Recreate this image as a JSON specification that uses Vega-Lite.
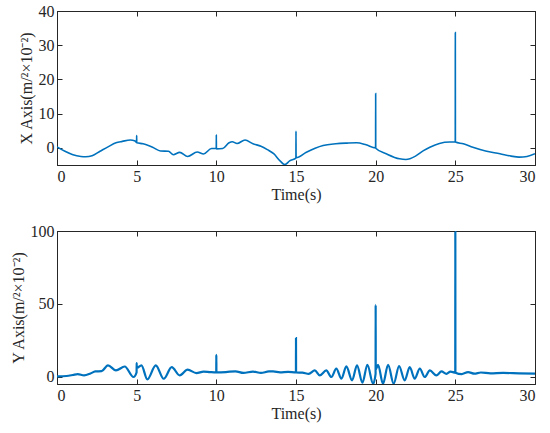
{
  "$schema": "https://vega.github.io/schema/vega-lite/v6.json",
  "padding": {"left": 9, "top": 2, "right": 6, "bottom": 4},
  "spacing": 19,
  "config": {
    "font": "Liberation Serif",
    "view": {"stroke": "#262626", "strokeWidth": 1},
    "axis": {
      "grid": false,
      "domainColor": "#262626",
      "tickColor": "#262626",
      "labelColor": "#262626",
      "titleColor": "#262626",
      "labelFont": "Liberation Serif",
      "titleFont": "Liberation Serif",
      "labelFontSize": 16,
      "titleFontSize": 16,
      "titleFontWeight": "normal",
      "tickSize": -5,
      "labelPadding": 8
    }
  },
  "datasets": {
    "xacc": [
      {"t": 0, "v": 0.3}, {"t": 0.5, "v": -1.0}, {"t": 1.0, "v": -2.0}, {"t": 1.5, "v": -2.5},
      {"t": 1.8, "v": -2.6}, {"t": 2.2, "v": -2.3}, {"t": 2.7, "v": -1.0}, {"t": 3.2, "v": 0.3},
      {"t": 3.7, "v": 1.5}, {"t": 4.1, "v": 1.9}, {"t": 4.6, "v": 2.3}, {"t": 4.9, "v": 2.0},
      {"t": 4.995, "v": 1.6}, {"t": 5.0, "v": 3.6}, {"t": 5.005, "v": 1.5}, {"t": 5.4, "v": 1.2},
      {"t": 6.0, "v": 0.2}, {"t": 6.5, "v": -0.9}, {"t": 7.0, "v": -1.0}, {"t": 7.3, "v": -2.0},
      {"t": 7.7, "v": -1.3}, {"t": 8.2, "v": -2.5}, {"t": 8.8, "v": -1.2}, {"t": 9.2, "v": -1.8},
      {"t": 9.7, "v": -0.2}, {"t": 9.995, "v": -0.2}, {"t": 10.0, "v": 3.8}, {"t": 10.005, "v": -0.3},
      {"t": 10.4, "v": -0.2}, {"t": 10.8, "v": 1.5}, {"t": 11.0, "v": 1.8}, {"t": 11.3, "v": 1.3},
      {"t": 11.8, "v": 2.3}, {"t": 12.3, "v": 1.2}, {"t": 12.8, "v": 0.5}, {"t": 13.2, "v": -0.5},
      {"t": 13.6, "v": -1.7}, {"t": 14.0, "v": -3.8}, {"t": 14.3, "v": -4.9}, {"t": 14.6, "v": -3.8},
      {"t": 14.995, "v": -3.0}, {"t": 15.0, "v": 4.9}, {"t": 15.005, "v": -2.9}, {"t": 15.65, "v": -1.3},
      {"t": 16.2, "v": -0.1}, {"t": 16.7, "v": 0.7}, {"t": 17.5, "v": 1.2}, {"t": 18.2, "v": 1.4},
      {"t": 18.8, "v": 1.5}, {"t": 19.4, "v": 0.9}, {"t": 19.995, "v": 0.0}, {"t": 20.0, "v": 15.9},
      {"t": 20.005, "v": -0.1}, {"t": 20.7, "v": -1.8}, {"t": 21.5, "v": -3.2}, {"t": 21.9, "v": -3.4},
      {"t": 22.5, "v": -2.4}, {"t": 23.0, "v": -0.8}, {"t": 23.4, "v": 0.2}, {"t": 24.0, "v": 1.3},
      {"t": 24.65, "v": 1.7}, {"t": 24.995, "v": 1.7}, {"t": 25.0, "v": 33.7}, {"t": 25.005, "v": 1.7},
      {"t": 25.5, "v": 1.2}, {"t": 26.1, "v": 0.2}, {"t": 26.9, "v": -0.9}, {"t": 27.8, "v": -1.7},
      {"t": 28.5, "v": -2.4}, {"t": 29.0, "v": -2.7}, {"t": 29.5, "v": -2.5}, {"t": 30.0, "v": -1.7}
    ],
    "yacc": [
      {"t": 0, "v": 0.2}, {"t": 0.6, "v": 0.5}, {"t": 1.0, "v": 1.2}, {"t": 1.3, "v": 1.8},
      {"t": 1.7, "v": 0.9}, {"t": 2.1, "v": 2.2}, {"t": 2.4, "v": 3.6}, {"t": 2.8, "v": 3.8},
      {"t": 3.2, "v": 7.8}, {"t": 3.7, "v": 4.3}, {"t": 4.25, "v": 7.0}, {"t": 4.8, "v": -0.2},
      {"t": 4.995, "v": 3.0}, {"t": 5.0, "v": 9.4}, {"t": 5.005, "v": 6.0}, {"t": 5.3, "v": 7.8},
      {"t": 5.67, "v": -1.8}, {"t": 6.2, "v": 7.8}, {"t": 6.7, "v": -1.4}, {"t": 7.2, "v": 6.6},
      {"t": 7.7, "v": 0.9}, {"t": 8.2, "v": 4.8}, {"t": 8.75, "v": 2.5}, {"t": 9.2, "v": 3.5},
      {"t": 9.6, "v": 3.2}, {"t": 9.995, "v": 3.0}, {"t": 10.0, "v": 15.0}, {"t": 10.005, "v": 3.0},
      {"t": 10.6, "v": 3.2}, {"t": 11.2, "v": 3.7}, {"t": 11.7, "v": 2.6}, {"t": 12.3, "v": 3.5},
      {"t": 12.8, "v": 2.6}, {"t": 13.3, "v": 3.6}, {"t": 13.56, "v": 3.6}, {"t": 14.0, "v": 3.0},
      {"t": 14.5, "v": 3.3}, {"t": 14.995, "v": 2.9}, {"t": 15.0, "v": 26.5}, {"t": 15.005, "v": 2.9},
      {"t": 15.4, "v": 2.8}, {"t": 15.8, "v": 2.0}, {"t": 16.18, "v": 4.3}, {"t": 16.49, "v": 0.9},
      {"t": 16.9, "v": 4.3}, {"t": 17.22, "v": -0.2}, {"t": 17.53, "v": 5.5}, {"t": 17.85, "v": -1.4},
      {"t": 18.16, "v": 7.1}, {"t": 18.52, "v": -2.5}, {"t": 18.83, "v": 7.8}, {"t": 19.17, "v": -4.1},
      {"t": 19.48, "v": 8.2}, {"t": 19.84, "v": -4.8}, {"t": 19.995, "v": 2.0}, {"t": 20.0, "v": 49.3},
      {"t": 20.005, "v": 5.0}, {"t": 20.15, "v": 8.2}, {"t": 20.46, "v": -4.8}, {"t": 20.78, "v": 8.2},
      {"t": 21.13, "v": -4.8}, {"t": 21.47, "v": 7.3}, {"t": 21.82, "v": -2.5}, {"t": 22.14, "v": 6.6},
      {"t": 22.45, "v": -1.4}, {"t": 22.77, "v": 5.5}, {"t": 23.08, "v": -0.2}, {"t": 23.4, "v": 4.3},
      {"t": 23.81, "v": 0.9}, {"t": 24.13, "v": 3.6}, {"t": 24.44, "v": 2.0}, {"t": 24.7, "v": 3.5},
      {"t": 24.995, "v": 2.8}, {"t": 25.0, "v": 99.5}, {"t": 25.005, "v": 2.8}, {"t": 25.4, "v": 1.8},
      {"t": 25.8, "v": 3.2}, {"t": 26.2, "v": 2.1}, {"t": 26.6, "v": 2.9}, {"t": 27.2, "v": 2.3},
      {"t": 28.0, "v": 2.6}, {"t": 29.0, "v": 2.3}, {"t": 30.0, "v": 2.1}
    ]
  },
  "vconcat": [
    {
      "width": 478,
      "height": 154,
      "data": {"name": "xacc"},
      "layer": [
        {
          "mark": {"type": "line", "color": "#0072BD", "strokeWidth": 1.6, "interpolate": "monotone", "clip": true},
          "encoding": {
            "x": {
              "field": "t", "type": "quantitative",
              "scale": {"domain": [0, 30], "nice": false},
              "axis": {"values": [0, 5, 10, 15, 20, 25, 30], "title": "Time(s)", "titlePadding": 2}
            },
            "y": {
              "field": "v", "type": "quantitative",
              "scale": {"domain": [-5, 40], "nice": false},
              "axis": {"values": [0, 10, 20, 30, 40], "title": "X Axis(m/²×10⁻²)", "titlePadding": 4}
            }
          }
        },
        {
          "mark": {"type": "line", "opacity": 0},
          "encoding": {
            "x": {"field": "t", "type": "quantitative", "axis": {"orient": "top", "values": [0, 5, 10, 15, 20, 25, 30], "labels": false, "title": null}},
            "y": {"field": "v", "type": "quantitative", "axis": {"orient": "right", "values": [0, 10, 20, 30, 40], "labels": false, "title": null}}
          }
        }
      ],
      "resolve": {"axis": {"x": "independent", "y": "independent"}}
    },
    {
      "width": 478,
      "height": 153,
      "data": {"name": "yacc"},
      "layer": [
        {
          "mark": {"type": "line", "color": "#0072BD", "strokeWidth": 2.2, "interpolate": "monotone", "clip": true},
          "encoding": {
            "x": {
              "field": "t", "type": "quantitative",
              "scale": {"domain": [0, 30], "nice": false},
              "axis": {"values": [0, 5, 10, 15, 20, 25, 30], "title": "Time(s)", "titlePadding": 2}
            },
            "y": {
              "field": "v", "type": "quantitative",
              "scale": {"domain": [-5, 100], "nice": false},
              "axis": {"values": [0, 50, 100], "title": "Y Axis(m/²×10⁻²)", "titlePadding": 4}
            }
          }
        },
        {
          "mark": {"type": "line", "opacity": 0},
          "encoding": {
            "x": {"field": "t", "type": "quantitative", "axis": {"orient": "top", "values": [0, 5, 10, 15, 20, 25, 30], "labels": false, "title": null}},
            "y": {"field": "v", "type": "quantitative", "axis": {"orient": "right", "values": [0, 50, 100], "labels": false, "title": null}}
          }
        }
      ],
      "resolve": {"axis": {"x": "independent", "y": "independent"}}
    }
  ]
}
